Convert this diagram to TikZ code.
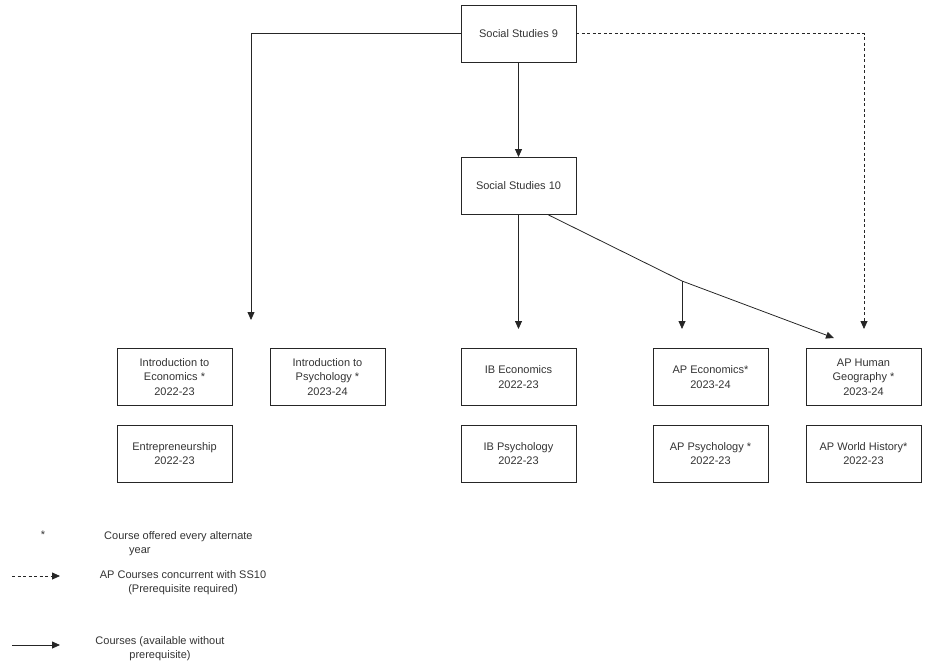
\documentclass[tikz,border=0pt]{standalone}
\usepackage{fontspec}
\setmainfont{Liberation Sans}
\usetikzlibrary{arrows.meta}
\begin{document}
\begin{tikzpicture}[x=1pt,y=-1pt,
  box/.style={draw=black!85,line width=0.9pt,minimum width=115pt,minimum height=57pt,align=center,font=\fontsize{11}{14.5}\selectfont,text=black!80,inner sep=2pt},
  conn/.style={draw=black!85,line width=0.8pt,-{Triangle[length=8pt,width=7pt]}},
  dconn/.style={conn,dash pattern=on 3pt off 2.5pt},
  lbl/.style={font=\fontsize{11}{14}\selectfont,text=black!80,align=center}]
\useasboundingbox (0,0) rectangle (926,669);
\node[box] (ss9) at (518.5,33.5) {Social Studies 9};
\node[box] (ss10) at (518.5,186) {Social Studies 10};
\node[box] (ie) at (174.5,377) {Introduction to\\Economics *\\2022-23};
\node[box] (ip) at (327.5,377) {Introduction to\\Psychology *\\2023-24};
\node[box] (en) at (174.5,453.5) {Entrepreneurship\\2022-23};
\node[box] (ibe) at (518.5,377) {IB Economics\\2022-23};
\node[box] (ibp) at (518.5,453.5) {IB Psychology\\2022-23};
\node[box] (ape) at (710.5,377) {AP Economics*\\2023-24};
\node[box] (app) at (710.5,453.5) {AP Psychology *\\2022-23};
\node[box] (aph) at (863.5,377) {AP Human\\Geography *\\2023-24};
\node[box] (apw) at (863.5,453.5) {AP World History*\\2022-23};
\coordinate (e1) at (251,320);
\coordinate (e2) at (864,329);
\coordinate (e3) at (518.5,329);
\coordinate (j) at (682,281);
\coordinate (e4) at (682,329);
\coordinate (e5) at (834,338);
\draw[conn] (ss9.west) -| (e1);
\draw[dconn] (ss9.east) -| (e2);
\draw[conn] (ss9) -- (ss10);
\draw[conn] (ss10.south) -- (e3);
\draw[conn] ([xshift=30pt]ss10.south) -- (j) -- (e5);
\draw[conn] (j) -- (e4);
% legend
\node[lbl] (star) at (43,535) {*};
\node[lbl,align=left,anchor=north west,inner sep=0pt] (l1) at (104,531) {Course offered every alternate\\\hspace*{25pt}year};
\coordinate (d1) at (12,576);
\coordinate (d2) at (60,576);
\draw[dconn] (d1) -- (d2);
\node[lbl] (l2) at (183,583) {AP Courses concurrent with SS10\\(Prerequisite required)};
\coordinate (s1) at (12,645);
\coordinate (s2) at (60,645);
\draw[conn] (s1) -- (s2);
\node[lbl] (l3) at (160,649) {Courses (available without\\prerequisite)};
\end{tikzpicture}
\end{document}
